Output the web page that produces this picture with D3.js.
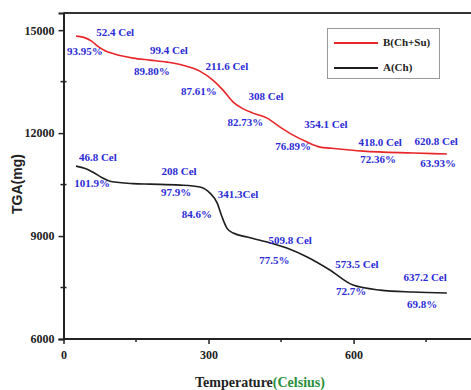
<!DOCTYPE html>
<html>
<head>
<meta charset="utf-8">
<script src="https://cdn.jsdelivr.net/npm/d3@7"></script>
<style>
  body { margin: 0; background: #fff; }
  text { font-family: "Liberation Serif", "Times New Roman", serif; font-weight: bold; }
</style>
</head>
<body>
<svg id="chart" width="471" height="390"></svg>
<script>
// curve samples: temperature (Celsius), TGA (mg)
const tempB = [26, 42, 58, 72, 86, 104, 144, 179, 214, 247, 282, 309, 330, 351, 369, 392, 421, 448, 475, 504, 531, 551, 620, 723, 793]
const tgaB = [14825, 14790, 14680, 14520, 14400, 14310, 14184, 14126, 14068, 13980, 13806, 13544, 13252, 12903, 12728, 12582, 12437, 12175, 11941, 11738, 11592, 11563, 11475, 11420, 11390]
const tempA = [26, 45, 62, 80, 98, 144, 179, 241, 282, 303, 318, 328, 338, 351, 380, 421, 462, 504, 551, 599, 655, 723, 793]
const tgaA = [11038, 10970, 10850, 10700, 10590, 10529, 10514, 10485, 10427, 10252, 9961, 9553, 9232, 9087, 8970, 8825, 8650, 8388, 8010, 7570, 7425, 7370, 7340]

// annotation texts and where they sit (data units)
const notesB = [
  ["52.4 Cel", 107, 14910], ["93.95%", 44, 14360],
  ["99.4 Cel", 218, 14385], ["89.80%", 183, 13777],
  ["211.6 Cel", 338, 13922], ["87.61%", 280, 13194],
  ["308 Cel", 419, 13048], ["82.73%", 376, 12291],
  ["354.1 Cel", 543, 12233], ["76.89%", 475, 11592],
  ["418.0 Cel", 655, 11708], ["72.36%", 651, 11213],
  ["620.8 Cel", 771, 11737], ["63.93%", 775, 11097]
]
const notesA = [
  ["46.8 Cel", 71, 11271], ["101.9%", 59, 10514],
  ["208 Cel", 239, 10864], ["97.9%", 233, 10252],
  ["341.3Cel", 361, 10194], ["84.6%", 276, 9611],
  ["509.8 Cel", 469, 8854], ["77.5%", 436, 8271],
  ["573.5 Cel", 607, 8155], ["72.7%", 595, 7368],
  ["637.2 Cel", 748, 7776], ["69.8%", 742, 6990]
]

const xTicks = [0, 300, 600]
const xMinor = [150, 450, 750]
const yTicks = [6000, 9000, 12000, 15000]
const yMinor = [7500, 10500, 13500]
const seriesNames = ["B(Ch+Su)", "A(Ch)"]
const seriesColors = ["#e8262a", "#1e1e1e"]

const svg = d3.select("#chart")
const mLeft = 63.5, mTop = 13, mBottom = 339
const x = d3.scaleLinear().domain([0, 845]).range([mLeft, 472])
const y = d3.scaleLinear().domain([6000, 15500]).range([mBottom, mTop])

// frame top line
svg.append("line")
  .attr("x1", mLeft).attr("x2", 471).attr("y1", mTop).attr("y2", mTop)
  .attr("stroke", "#333").attr("stroke-width", 2)

// axes
let xAxis = svg.append("g").attr("transform", `translate(0,${mBottom})`)
  .call(d3.axisBottom(x).tickValues(xTicks).tickFormat(d3.format("d")).tickSize(5).tickPadding(6))
xAxis.append("g").selectAll("line").data(xMinor).enter().append("line")
  .attr("x1", d => x(d)).attr("x2", d => x(d)).attr("y1", 0).attr("y2", 3)
  .attr("stroke", "#222").attr("stroke-width", 1.5)

let yAxis = svg.append("g").attr("transform", `translate(${mLeft},0)`)
  .call(d3.axisLeft(y).tickValues(yTicks).tickFormat(d3.format("d")).tickSize(5).tickPadding(4))
yAxis.append("g").selectAll("line").data(yMinor).enter().append("line")
  .attr("y1", d => y(d)).attr("y2", d => y(d)).attr("x1", -3).attr("x2", 3)
  .attr("stroke", "#222").attr("stroke-width", 1.5)

svg.selectAll(".domain").attr("stroke", "#222").attr("stroke-width", 2)
svg.selectAll(".tick line").attr("stroke", "#222").attr("stroke-width", 1.5)
svg.selectAll(".tick text")
  .style("font-family", "Liberation Serif, serif").style("font-weight", "bold")
  .style("font-size", "12px").attr("fill", "#222")
xAxis.select(".domain").attr("d", `M${mLeft},0H471`)

// curves
const line = d3.line().x(d => x(d[0])).y(d => y(d[1])).curve(d3.curveMonotoneX)
svg.append("path").datum(tempB.map((t, i) => [t, tgaB[i]]))
  .attr("d", line).attr("fill", "none").attr("stroke", seriesColors[0]).attr("stroke-width", 1.6)
svg.append("path").datum(tempA.map((t, i) => [t, tgaA[i]]))
  .attr("d", line).attr("fill", "none").attr("stroke", seriesColors[1]).attr("stroke-width", 1.6)

// annotations
svg.append("g").selectAll("text").data(notesB.concat(notesA)).enter().append("text")
  .attr("x", d => x(d[1])).attr("y", d => y(d[2]))
  .attr("text-anchor", "middle").attr("dominant-baseline", "middle")
  .attr("fill", "#2b2bd6").style("font-size", "11px")
  .text(d => d[0])

// legend
let legend = svg.append("g")
legend.append("rect").attr("x", 327.5).attr("y", 28.5).attr("width", 112).attr("height", 50)
  .attr("fill", "#fff").attr("stroke", "#999").attr("stroke-width", 1)
seriesNames.forEach((name, i) => {
  let ly = 43 + i * 25
  legend.append("line").attr("x1", 334).attr("x2", 378).attr("y1", ly).attr("y2", ly)
    .attr("stroke", seriesColors[i]).attr("stroke-width", 2)
  legend.append("text").attr("x", 383).attr("y", ly).attr("dominant-baseline", "middle")
    .style("font-size", "11px").attr("fill", "#222").text(name)
})

// axis titles
svg.append("text")
  .attr("transform", "translate(18,184) rotate(-90)")
  .attr("text-anchor", "middle").attr("dominant-baseline", "middle")
  .style("font-family", "Liberation Sans, Arial, sans-serif").style("font-size", "14px")
  .attr("fill", "#222").text("TGA(mg)")

let xt = svg.append("text").attr("x", 260).attr("y", 387).attr("text-anchor", "middle")
  .style("font-size", "14px").attr("fill", "#222")
xt.append("tspan").text("Temperature")
xt.append("tspan").attr("fill", "#2a8f3c").text("(Celsius)")
</script>
</body>
</html>
